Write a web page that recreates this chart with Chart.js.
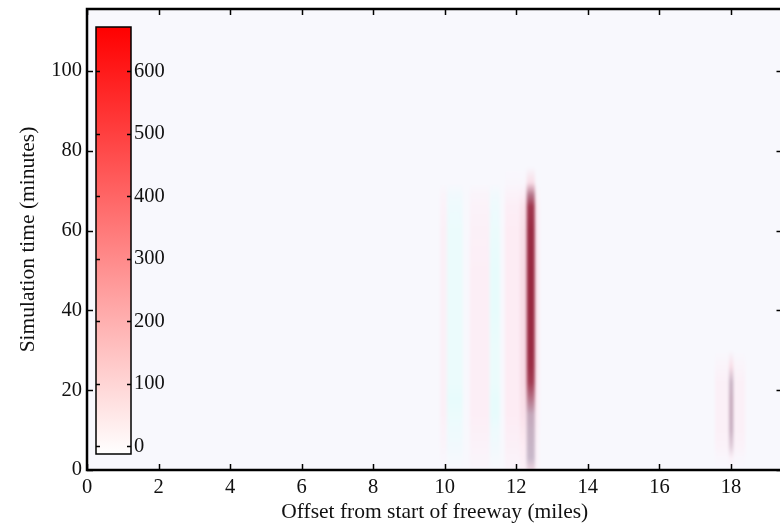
<!DOCTYPE html>
<html lang="en">
<head>
  <meta charset="UTF-8" />
  <title>Freeway simulation</title>
  <script src="https://cdn.jsdelivr.net/npm/chart.js@4"></script>
  <style>
    html, body { margin: 0; padding: 0; background: #fff; overflow: hidden; }
    #wrap { width: 790px; height: 525px; }
  </style>
</head>
<body>
  <div id="wrap"><canvas id="heat" width="790" height="525"></canvas></div>

  <script>
    // sample times (minutes) shared by every column of the map
    const minutes = [0, 3, 6, 10, 14, 18, 22, 26, 30, 40, 50, 60, 66, 69, 72, 76];

    // column bands along the freeway (miles)
    const colFrom = [9.87, 10.06, 10.70, 11.26, 11.68, 12.10, 12.29, 12.52, 17.55, 17.95, 18.07];
    const colTo   = [10.06, 10.50, 11.26, 11.54, 12.10, 12.29, 12.52, 12.64, 17.95, 18.07, 18.40];

    // value per column, one entry per sample time
    const heat = [
      [0, 5, 10, 15, 20, 20, 20, 20, 20, 20, 20, 20, 15, 10, 0, 0],
      [0, -5, -10, -15, -20, -25, -20, -20, -20, -20, -20, -20, -15, -10, 0, 0],
      [5, 10, 15, 20, 25, 25, 25, 25, 25, 25, 25, 20, 15, 10, 0, 0],
      [0, -5, -10, -15, -25, -25, -20, -20, -20, -25, -25, -20, -15, -10, 0, 0],
      [10, 15, 20, 25, 30, 30, 30, 30, 30, 30, 30, 30, 25, 15, 5, 0],
      [20, 25, 30, 40, 50, 55, 60, 60, 60, 60, 60, 55, 45, 25, 5, 0],
      [80, 150, 160, 170, 190, 320, 560, 680, 700, 720, 720, 700, 600, 300, 60, 0],
      [10, 15, 15, 20, 25, 30, 35, 40, 40, 40, 40, 35, 30, 15, 0, 0],
      [0, 5, 15, 20, 20, 20, 20, 10, 0, 0, 0, 0, 0, 0, 0, 0],
      [0, 20, 110, 180, 190, 190, 170, 60, 0, 0, 0, 0, 0, 0, 0, 0],
      [0, 5, 15, 20, 20, 20, 20, 10, 0, 0, 0, 0, 0, 0, 0, 0]
    ];

    const xTicksStep = 2;
    const yTicksStep = 20;
    const xMax = 19.44;
    const yMax = 115.5;

    // colour bar
    const colorbarTicks = [0, 100, 200, 300, 400, 500, 600];
    const colorbarMin = -12;
    const colorbarMax = 671;

    // colour stops of the map: value -> rgb
    const heatStops = [
      [-30, [228, 252, 252]],
      [0, [248, 248, 253]],
      [30, [253, 236, 244]],
      [60, [248, 220, 230]],
      [150, [200, 184, 202]],
      [400, [172, 78, 100]],
      [720, [152, 40, 64]]
    ];

    function heatColor(v) {
      if (v <= heatStops[0][0]) return heatStops[0][1];
      for (let i = 1; i < heatStops.length; i++) {
        const [v1, c1] = heatStops[i];
        const [v0, c0] = heatStops[i - 1];
        if (v <= v1) {
          const f = (v - v0) / (v1 - v0);
          return c0.map((c, k) => Math.round(c + (c1[k] - c) * f));
        }
      }
      return heatStops[heatStops.length - 1][1];
    }
    const rgb = c => `rgb(${c[0]},${c[1]},${c[2]})`;

    const FONT = "'Liberation Serif', 'DejaVu Serif', serif";

    const heatPlugin = {
      id: 'heatmap',
      beforeDatasetsDraw(chart) {
        const { ctx, chartArea: a, scales: { x, y } } = chart;
        const off = document.createElement('canvas');
        off.width = chart.width;
        off.height = chart.height;
        const o = off.getContext('2d');
        o.fillStyle = rgb(heatColor(0));
        o.fillRect(0, 0, off.width, off.height);
        const t0 = minutes[0], t1 = minutes[minutes.length - 1];
        const yBot = y.getPixelForValue(t0), yTop = y.getPixelForValue(t1);
        heat.forEach((row, i) => {
          const g = o.createLinearGradient(0, yBot, 0, yTop);
          row.forEach((v, j) => g.addColorStop((minutes[j] - t0) / (t1 - t0), rgb(heatColor(v))));
          const x0 = x.getPixelForValue(colFrom[i]);
          const x1 = x.getPixelForValue(colTo[i]);
          o.fillStyle = g;
          o.fillRect(x0, yTop, x1 - x0, yBot - yTop);
        });
        ctx.save();
        ctx.beginPath();
        ctx.rect(a.left, a.top, a.width, a.height);
        ctx.clip();
        ctx.filter = 'blur(1.5px)';
        ctx.drawImage(off, 0, 0);
        ctx.restore();
      },
      afterDraw(chart) {
        const { ctx, chartArea: a, scales: { x, y } } = chart;
        ctx.save();
        ctx.strokeStyle = '#000';
        ctx.lineWidth = 1.5;
        ctx.beginPath();
        x.ticks.forEach(t => {
          const px = Math.round(x.getPixelForValue(t.value)) + 0.5;
          ctx.moveTo(px, a.bottom); ctx.lineTo(px, a.bottom - 6);
          ctx.moveTo(px, a.top); ctx.lineTo(px, a.top + 6);
        });
        y.ticks.forEach(t => {
          const py = Math.round(y.getPixelForValue(t.value)) + 0.5;
          ctx.moveTo(a.left, py); ctx.lineTo(a.left + 6, py);
          ctx.moveTo(a.right, py); ctx.lineTo(a.right - 6, py);
        });
        ctx.stroke();
        ctx.lineWidth = 2.5;
        ctx.strokeRect(a.left, a.top, a.width, a.height);

        // colour bar inset
        const cl = a.left + 9, cr = a.left + 44;
        const ct = a.top + 18, cb = a.bottom - 16;
        const cy = v => cb - (v - colorbarMin) / (colorbarMax - colorbarMin) * (cb - ct);
        const g = ctx.createLinearGradient(0, cb, 0, ct);
        g.addColorStop(0, '#ffffff');
        g.addColorStop(1, '#ff0000');
        ctx.fillStyle = g;
        ctx.fillRect(cl, ct, cr - cl, cb - ct);
        ctx.lineWidth = 1.5;
        ctx.beginPath();
        colorbarTicks.forEach(v => {
          const py = Math.round(cy(v)) + 0.5;
          ctx.moveTo(cl, py); ctx.lineTo(cl + 4, py);
          ctx.moveTo(cr, py); ctx.lineTo(cr - 4, py);
        });
        ctx.stroke();
        ctx.strokeRect(cl, ct, cr - cl, cb - ct);
        ctx.fillStyle = '#111';
        ctx.font = `20.5px ${FONT}`;
        ctx.textAlign = 'left';
        ctx.textBaseline = 'middle';
        colorbarTicks.forEach(v => ctx.fillText(String(v), cr + 3, cy(v)));
        ctx.restore();
      }
    };

    const bgPlugin = {
      id: 'axesBg',
      beforeDraw(chart) {
        const { ctx, chartArea: a } = chart;
        ctx.save();
        ctx.fillStyle = '#fff';
        ctx.fillRect(0, 0, chart.width, chart.height);
        ctx.fillStyle = rgb(heatColor(0));
        ctx.fillRect(a.left, a.top, a.width, a.height);
        ctx.restore();
      }
    };

    new Chart(document.getElementById('heat'), {
      type: 'scatter',
      data: { datasets: [{ data: [], pointRadius: 0 }] },
      options: {
        responsive: false,
        animation: false,
        layout: { padding: { top: 9, right: 7.5, left: 0, bottom: 0 } },
        plugins: { legend: { display: false }, tooltip: { enabled: false } },
        scales: {
          x: {
            type: 'linear',
            min: 0,
            max: xMax,
            afterFit: s => { s.height = 55; s.paddingLeft = 0; s.paddingRight = 0; },
            grid: { display: false, drawTicks: false },
            border: { display: false },
            ticks: {
              stepSize: xTicksStep,
              includeBounds: false,
              padding: 5,
              color: '#111',
              font: { family: FONT, size: 20.5 }
            },
            title: {
              display: true,
              text: 'Offset from start of freeway (miles)',
              color: '#111',
              font: { family: FONT, size: 21.5 },
              padding: { top: 0, bottom: 0 }
            }
          },
          y: {
            type: 'linear',
            min: 0,
            max: yMax,
            afterFit: s => { s.width = 87; s.paddingTop = 0; s.paddingBottom = 0; },
            grid: { display: false, drawTicks: false },
            border: { display: false },
            ticks: {
              stepSize: yTicksStep,
              includeBounds: false,
              padding: 5,
              color: '#111',
              font: { family: FONT, size: 20.5 }
            },
            title: {
              display: true,
              text: 'Simulation time (minutes)',
              color: '#111',
              font: { family: FONT, size: 21.5 },
              padding: { top: 15, bottom: 0 }
            }
          }
        }
      },
      plugins: [bgPlugin, heatPlugin]
    });
  </script>
</body>
</html>
